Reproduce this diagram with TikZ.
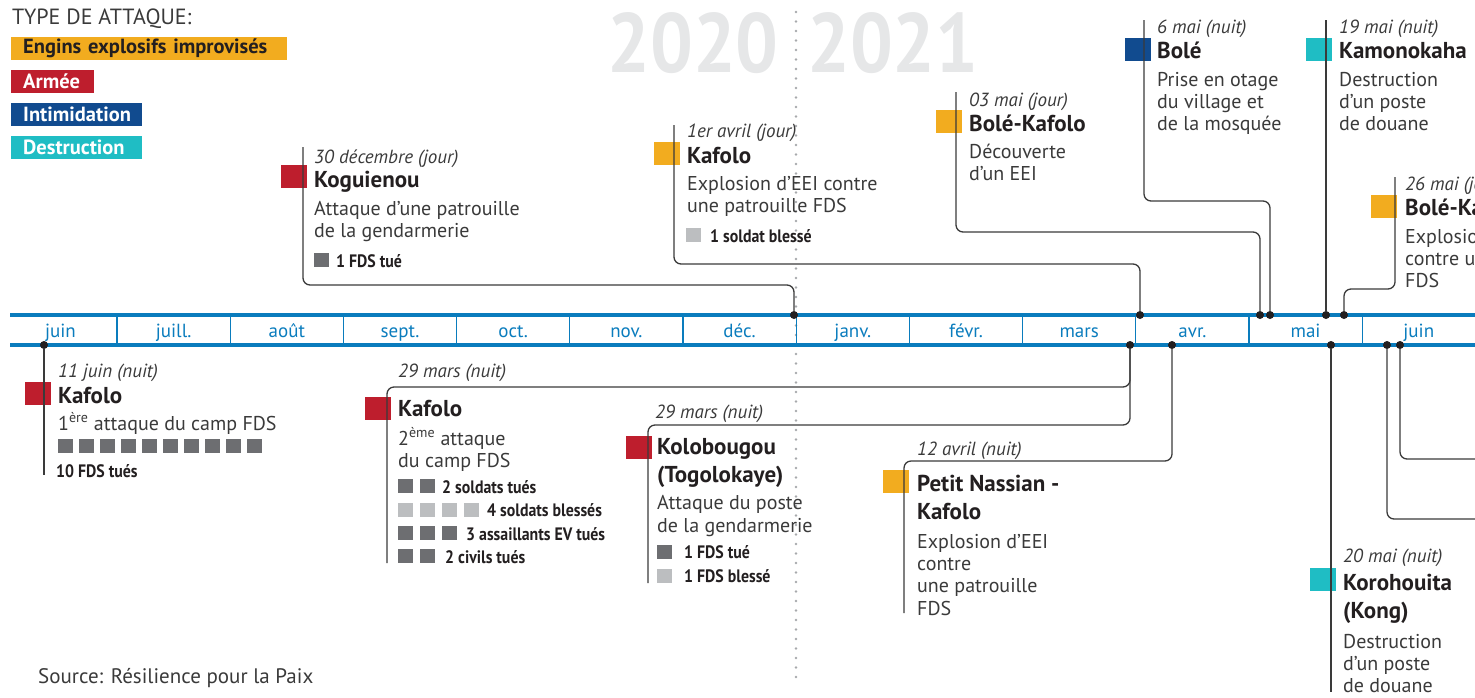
\documentclass[tikz,border=0pt]{standalone}
\usepackage{fontspec}
\setmainfont{PT Sans}
\newfontfamily\condensed{PT Sans}[FakeStretch=0.88]
\newfontfamily\yearfont{PT Sans}[FakeStretch=0.9]
\usetikzlibrary{positioning}

\definecolor{eeiorange}{HTML}{F2AC1F}
\definecolor{armeered}{HTML}{BE1E2D}
\definecolor{intimblue}{HTML}{114B8F}
\definecolor{destteal}{HTML}{1FBDC4}
\definecolor{lineblue}{HTML}{0A7CBD}
\definecolor{darksq}{HTML}{6D6E71}
\definecolor{lightsq}{HTML}{BCBEC0}
\definecolor{textdark}{HTML}{231F20}
\definecolor{textgray}{HTML}{3A3A3A}
\definecolor{yeargray}{HTML}{E6E7E8}
\definecolor{dotgray}{HTML}{A7A9AC}

% multi-line nodes: the base anchor sits on the last line
\tikzset{
  datetxt/.style={anchor=base west, inner sep=0pt, text=textgray,
    font=\fontsize{19}{22}\selectfont\itshape},
  titletxt/.style={anchor=base west, inner sep=0pt, text=textdark, align=left,
    font=\fontsize{23}{28}\selectfont\bfseries},
  desctxt/.style={anchor=base west, inner sep=0pt, text=textgray, align=left,
    font=\fontsize{20}{22.4}\selectfont},
  castxt/.style={anchor=base west, inner sep=0pt, text=textdark,
    font=\condensed\bfseries\fontsize{18}{20}\selectfont},
  evsq/.style={anchor=north west, inner sep=0pt, minimum width=26pt, minimum height=23pt},
  cassq/.style={anchor=north west, inner sep=0pt, minimum width=15pt, minimum height=14pt},
  typebox/.style={anchor=north west, inner xsep=12pt, inner ysep=0pt, minimum height=23pt,
    align=left, font=\fontsize{20.5}{22}\selectfont\bfseries},
  link/.style={draw=textgray, line width=1.3pt, rounded corners=7pt},
  tick/.style={circle, fill=textdark, inner sep=0pt, minimum size=8pt},
  tl/.style={draw=lineblue, line width=3.5pt},
  monthsep/.style={draw=lineblue, line width=1.2pt},
  yeartxt/.style={inner sep=0pt, text=yeargray, font=\yearfont\fontsize{84}{84}\selectfont\bfseries},
  yeardiv/.style={draw=dotgray, line width=2.6pt, line cap=round, dash pattern=on 0pt off 9.5pt}
}

\begin{document}
\begin{tikzpicture}[x=1pt,y=-1pt]
  \useasboundingbox (0,0) rectangle (1475,697);

  % years
  \node[yeartxt, anchor=base east] (y2020) at (779,72) {2020};
  \node[yeartxt, anchor=base west] (y2021) at (807,72) {2021};
  \draw[yeardiv] (796,12) -- (796,686);

  % legend
  \node[anchor=base west, inner sep=0pt, text=textgray, font=\fontsize{22}{24}\selectfont]
    (legtitle) at (12,24) {TYPE DE ATTAQUE:};
  \node[typebox, fill=eeiorange, text=textdark, text width=252pt] (leg-eei) at (11,37) {Engins explosifs improvisés};
  \node[typebox, fill=armeered, text=white, text width=59pt] (leg-arm) at (11,70) {Armée};
  \node[typebox, fill=intimblue, text=white, text width=107pt] (leg-int) at (11,103) {Intimidation};
  \node[typebox, fill=destteal, text=white, text width=107pt] (leg-des) at (11,136) {Destruction};

  % timeline
  \draw[tl] (10,315) -- (1475,315);
  \draw[tl] (10,345) -- (1475,345);
  \foreach \k in {0,...,11}
    \draw[monthsep] (117+113.2*\k,315) -- (117+113.2*\k,345);
  \foreach \m [count=\k from 0] in {juin,juill.,août,sept.,oct.,nov.,déc.,janv.,févr.,mars,avr.,mai,juin}
    \node[anchor=base, inner sep=0pt, text=lineblue, font=\fontsize{19}{20}\selectfont]
      (month-\k) at (60.4+113.2*\k,337) {\m};

  % --- events above the line
  % 30 decembre
  \node[evsq, fill=armeered] (kog-sq) at (281,165) {};
  \node[datetxt] (kog-date) at (314,163) {30 décembre (jour)};
  \node[titletxt] (kog-title) at (314,187) {Koguienou};
  \node[desctxt] (kog-desc) at (314,237.4) {Attaque d’une patrouille\\de la gendarmerie};
  \node[cassq, fill=darksq] (kog-c1) at (314,253) {};
  \node[castxt] (kog-t1) at (336,267) {1 FDS tué};

  % 1er avril
  \node[evsq, fill=eeiorange] (ka-sq) at (654,142) {};
  \node[datetxt] (ka-date) at (687,137) {1er avril (jour)};
  \node[titletxt] (ka-title) at (687,163) {Kafolo};
  \node[desctxt] (ka-desc) at (687,212.4) {Explosion d’EEI contre\\une patrouille FDS};
  \node[cassq, fill=lightsq] (ka-c1) at (686,228) {};
  \node[castxt] (ka-t1) at (710,242) {1 soldat blessé};

  % 03 mai
  \node[evsq, fill=eeiorange] (bk-sq) at (936,110) {};
  \node[datetxt] (bk-date) at (969,106) {03 mai (jour)};
  \node[titletxt] (bk-title) at (969,131) {Bolé-Kafolo};
  \node[desctxt] (bk-desc) at (969,180.4) {Découverte\\d’un EEI};

  % 6 mai
  \node[evsq, fill=intimblue] (bole-sq) at (1125,38) {};
  \node[datetxt] (bole-date) at (1157,33) {6 mai (nuit)};
  \node[titletxt] (bole-title) at (1157,58) {Bolé};
  \node[desctxt] (bole-desc) at (1157,130.8) {Prise en otage\\du village et\\de la mosquée};

  % 19 mai
  \node[evsq, fill=destteal] (kam-sq) at (1306,38) {};
  \node[datetxt] (kam-date) at (1339,33) {19 mai (nuit)};
  \node[titletxt] (kam-title) at (1339,58) {Kamonokaha};
  \node[desctxt] (kam-desc) at (1339,130.8) {Destruction\\d’un poste\\de douane};

  % 26 mai
  \node[evsq, fill=eeiorange] (b26-sq) at (1371,195) {};
  \node[datetxt] (b26-date) at (1405,190) {26 mai (jour)};
  \node[titletxt] (b26-title) at (1405,215) {Bolé-Kafolo};
  \node[desctxt] (b26-desc) at (1405,287.8) {Explosion d’EEI\\contre une patrouille\\FDS};

  % --- events below the line
  % 11 juin
  \node[evsq, fill=armeered] (k11-sq) at (25,382) {};
  \node[datetxt] (k11-date) at (58,377) {11 juin (nuit)};
  \node[titletxt] (k11-title) at (58,403) {Kafolo};
  \node[desctxt] (k11-desc) at (58,430) {1\textsuperscript{ère} attaque du camp FDS};
  \foreach \i in {0,...,9}
    \node[cassq, fill=darksq] (k11-c\i) at (58+21*\i,439) {};
  \node[castxt] (k11-t1) at (56,477) {10 FDS tués};

  % 29 mars, Kafolo
  \node[evsq, fill=armeered] (k29-sq) at (365,397) {};
  \node[datetxt] (k29-date) at (398,377) {29 mars (nuit)};
  \node[titletxt] (k29-title) at (398,416) {Kafolo};
  \node[desctxt] (k29-desc) at (398,467.4) {2\textsuperscript{ème} attaque\\du camp FDS};
  \foreach \i in {0,1}
    \node[cassq, fill=darksq] (k29-a\i) at (398+22*\i,479) {};
  \node[castxt] (k29-t1) at (442,493) {2 soldats tués};
  \foreach \i in {0,...,3}
    \node[cassq, fill=lightsq] (k29-b\i) at (398+22*\i,502.5) {};
  \node[castxt] (k29-t2) at (487,516.5) {4 soldats blessés};
  \foreach \i in {0,1,2}
    \node[cassq, fill=darksq] (k29-c\i) at (398+22*\i,526) {};
  \node[castxt] (k29-t3) at (466,540) {3 assaillants EV tués};
  \foreach \i in {0,1}
    \node[cassq, fill=darksq] (k29-d\i) at (398+22*\i,549) {};
  \node[castxt] (k29-t4) at (445,563) {2 civils tués};

  % 29 mars, Kolobougou
  \node[evsq, fill=armeered] (kol-sq) at (626,436) {};
  \node[datetxt] (kol-date) at (655,418) {29 mars (nuit)};
  \node[titletxt] (kol-title) at (657,482) {Kolobougou\\(Togolokaye)};
  \node[desctxt] (kol-desc) at (657,532) {Attaque du poste\\de la gendarmerie};
  \node[cassq, fill=darksq] (kol-c1) at (657,545) {};
  \node[castxt] (kol-t1) at (684,558) {1 FDS tué};
  \node[cassq, fill=lightsq] (kol-c2) at (657,569) {};
  \node[castxt] (kol-t2) at (684,582) {1 FDS blessé};

  % 12 avril
  \node[evsq, fill=eeiorange] (pn-sq) at (883,470) {};
  \node[datetxt] (pn-date) at (917,455) {12 avril (nuit)};
  \node[titletxt] (pn-title) at (917,519) {Petit Nassian -\\Kafolo};
  \node[desctxt] (pn-desc) at (917,615.2) {Explosion d’EEI\\contre\\une patrouille\\FDS};

  % 20 mai
  \node[evsq, fill=destteal] (kor-sq) at (1310,568) {};
  \node[datetxt] (kor-date) at (1343,562) {20 mai (nuit)};
  \node[titletxt] (kor-title) at (1343,618) {Korohouita\\(Kong)};
  \node[desctxt] (kor-desc) at (1343,692.8) {Destruction\\d’un poste\\de douane};

  \node[anchor=base west, inner sep=0pt, text=textgray, font=\fontsize{21}{23}\selectfont]
    (source) at (38,683) {Source: Résilience pour la Paix};

  % dots on the timeline
  \node[tick] (d-kog) at (794,315) {};
  \node[tick] (d-ka) at (1140,315) {};
  \node[tick] (d-bk) at (1260,315) {};
  \node[tick] (d-bole) at (1270,315) {};
  \node[tick] (d-kam) at (1326,315) {};
  \node[tick] (d-b26) at (1344,315) {};
  \node[tick] (d-k11) at (44,345) {};
  \node[tick] (d-k29) at (1130,345) {};
  \node[tick] (d-pn) at (1172,345) {};
  \node[tick] (d-kor) at (1331,345) {};
  \node[tick] (d-e1) at (1387,345) {};
  \node[tick] (d-e2) at (1400,345) {};

  % connectors
  \coordinate (kog-top) at (303,147);  \coordinate (kog-bend) at (794,285);
  \coordinate (ka-top) at (674,125);   \coordinate (ka-bend) at (1140,264);
  \coordinate (bk-top) at (956,92);    \coordinate (bk-bend) at (1260,232);
  \coordinate (bole-top) at (1144,20); \coordinate (bole-bend) at (1270,201);
  \coordinate (kam-top) at (1326,20);
  \coordinate (b26-top) at (1395,177); \coordinate (b26-bend) at (1344,289);
  \coordinate (k11-end) at (44,475);
  \coordinate (k29-bend) at (387,387); \coordinate (k29-end) at (387,563);
  \coordinate (kol-bend) at (648,425); \coordinate (kol-end) at (648,583);
  \coordinate (pn-bend) at (904,461);  \coordinate (pn-end) at (904,613);
  \coordinate (kor-end) at (1331,692);
  \coordinate (e1-end) at (1482,519);
  \coordinate (e2-end) at (1482,459);

  \draw[link] (kog-top) |- (kog-bend) -- (d-kog);
  \draw[link] (ka-top) |- (ka-bend) -- (d-ka);
  \draw[link] (bk-top) |- (bk-bend) -- (d-bk);
  \draw[link] (bole-top) |- (bole-bend) -- (d-bole);
  \draw[link] (kam-top) -- (d-kam);
  \draw[link] (b26-top) |- (b26-bend) -- (d-b26);
  \draw[link] (d-k11) -- (k11-end);
  \draw[link] (d-k29) |- (k29-bend) -- (k29-end);
  \draw[link] (d-k29) |- (kol-bend) -- (kol-end);
  \draw[link] (d-pn) |- (pn-bend) -- (pn-end);
  \draw[link] (d-kor) -- (kor-end);
  \draw[link] (d-e1) |- (e1-end);
  \draw[link] (d-e2) |- (e2-end);
\end{tikzpicture}
\end{document}
